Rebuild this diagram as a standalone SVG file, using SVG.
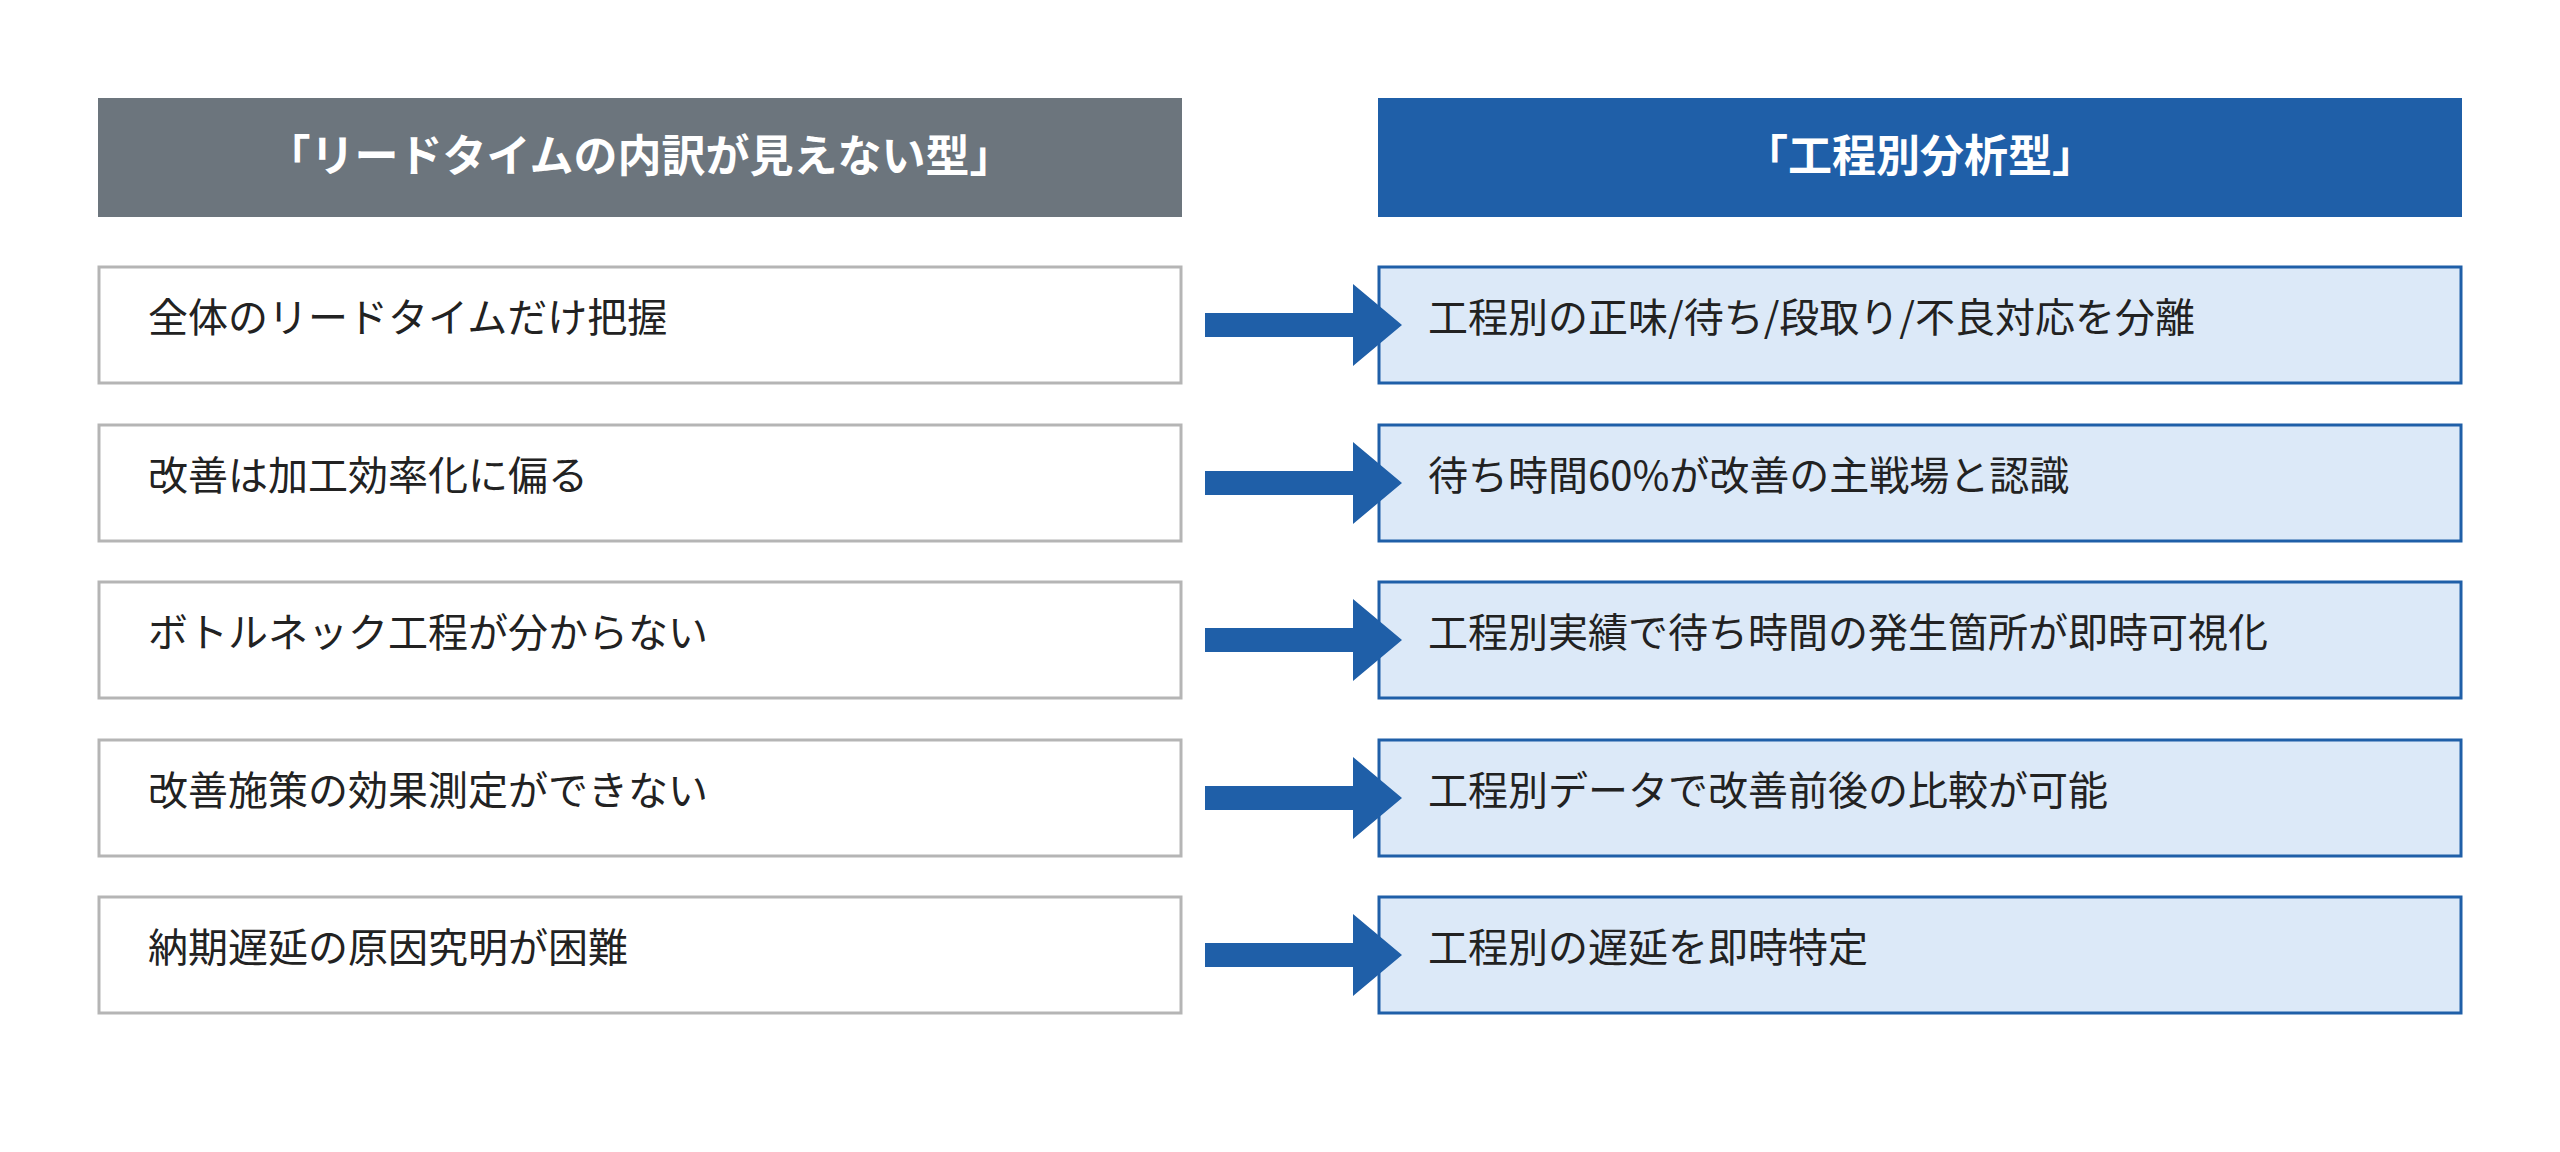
<svg xmlns="http://www.w3.org/2000/svg" width="2560" height="1152" viewBox="0 0 2560 1152">
<style>
text{font-family:"Noto Sans CJK JP","Noto Sans",sans-serif;}
.h{font-size:44px;font-weight:bold;fill:#fff;text-anchor:middle;}
.t{font-size:40px;fill:#222;}
.l{fill:#fff;stroke:#b5b5b5;stroke-width:3;}
.r{fill:#dce9f8;stroke:#1f5fa8;stroke-width:3;}
.a{fill:#1f5fa8;}
</style>
<rect width="2560" height="1152" fill="#fff"/>
<g id="hdrL"><rect x="98" y="98" width="1084" height="119" fill="#6c757d"/><text class="h" x="640" y="172">「リードタイムの内訳が見えない型」</text></g>
<g id="hdrR"><rect x="1378" y="98" width="1084" height="119" fill="#1f5fa8"/><text class="h" x="1920" y="172">「工程別分析型」</text></g>
<g id="L1"><rect class="l" x="99" y="267" width="1082" height="116"/><text class="t" x="148" y="332">全体のリードタイムだけ把握</text></g>
<g id="L2"><rect class="l" x="99" y="425" width="1082" height="116"/><text class="t" x="148" y="490">改善は加工効率化に偏る</text></g>
<g id="L3"><rect class="l" x="99" y="582" width="1082" height="116"/><text class="t" x="148" y="647">ボトルネック工程が分からない</text></g>
<g id="L4"><rect class="l" x="99" y="740" width="1082" height="116"/><text class="t" x="148" y="805">改善施策の効果測定ができない</text></g>
<g id="L5"><rect class="l" x="99" y="897" width="1082" height="116"/><text class="t" x="148" y="962">納期遅延の原因究明が困難</text></g>
<g id="R1"><rect class="r" x="1379" y="267" width="1082" height="116"/><text class="t" x="1428" y="332">工程別の正味/待ち/段取り/不良対応を分離</text></g>
<g id="R2"><rect class="r" x="1379" y="425" width="1082" height="116"/><text class="t" x="1428" y="490">待ち時間60%が改善の主戦場と認識</text></g>
<g id="R3"><rect class="r" x="1379" y="582" width="1082" height="116"/><text class="t" x="1428" y="647">工程別実績で待ち時間の発生箇所が即時可視化</text></g>
<g id="R4"><rect class="r" x="1379" y="740" width="1082" height="116"/><text class="t" x="1428" y="805">工程別データで改善前後の比較が可能</text></g>
<g id="R5"><rect class="r" x="1379" y="897" width="1082" height="116"/><text class="t" x="1428" y="962">工程別の遅延を即時特定</text></g>
<g id="connectors">
<path class="a" d="M1205 313h148v-29l49 41l-49 41v-29h-148z"/>
<path class="a" d="M1205 471h148v-29l49 41l-49 41v-29h-148z"/>
<path class="a" d="M1205 628h148v-29l49 41l-49 41v-29h-148z"/>
<path class="a" d="M1205 786h148v-29l49 41l-49 41v-29h-148z"/>
<path class="a" d="M1205 943h148v-29l49 41l-49 41v-29h-148z"/>
</g>
</svg>
